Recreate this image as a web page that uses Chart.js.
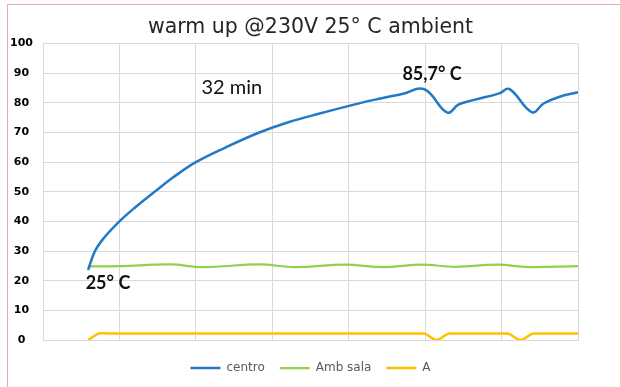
<!DOCTYPE html>
<html>
<head>
<meta charset="utf-8">
<script src="https://cdn.jsdelivr.net/npm/chart.js@4"></script>
<style>
  body { margin: 0; background: #fff; }
  #wrap { position: relative; width: 620px; height: 387px; }
  #frame { position: absolute; left: 7px; top: 4px; right: 0; bottom: 0;
           border-top: 1px solid #e9aab3; border-left: 1px solid #e9aab3; }
</style>
</head>
<body>
<div id="wrap">
  <div id="frame"></div>
  <canvas id="warmupChart"></canvas>
</div>
<script>
// x is measured in grid cells (the chart has 7, no labels)
var centroT = [0.59, 0.68, 0.8, 1.0, 1.2, 1.46, 1.7, 2.0, 2.4, 2.83, 3.2, 3.62, 4.16, 4.4, 4.7, 4.99, 5.29, 5.44, 5.64, 5.97, 6.1, 6.4, 6.55, 6.75, 7.0]
var centroV = [23.6, 30, 34.5, 40, 44.6, 50, 54.8, 60, 65.1, 70, 73.4, 76.4, 80, 81.4, 83, 84.6, 76.7, 79.5, 81, 83.2, 84.7, 76.8, 79.8, 82, 83.6]

var ambT = [0.59, 1.0, 1.66, 2.1, 2.83, 3.3, 3.95, 4.45, 4.95, 5.4, 5.95, 6.35, 7.0]
var ambV = [24.8, 24.9, 25.5, 24.6, 25.5, 24.6, 25.4, 24.6, 25.4, 24.7, 25.4, 24.6, 24.9]

var aT = [0.59, 0.75, 0.85, 4.98, 5.15, 5.32, 6.07, 6.25, 6.42, 7.0]
var aV = [0, 2.3, 2.2, 2.2, 0, 2.2, 2.2, 0, 2.2, 2.2]

var seriesNames = ["centro", "Amb sala", "A"]
var seriesColors = ["#2479c6", "#92d050", "#ffc000"]

var yTicks = [0, 10, 20, 30, 40, 50, 60, 70, 80, 90, 100]

// text notes placed in data units
var notes = [
    {text: "32 min", x: 2.47, y: 85.2, bold: false, size: 20},
    {text: "85,7° C", x: 5.09, y: 89.8, bold: true, size: 18},
    {text: "25° C", x: 0.85, y: 19, bold: true, size: 18}
]

function toPoints(xs, ys){
    return xs.map((x, i) => ({x: x, y: ys[i]}))
}

const notesPlugin = {
    id: "notes",
    afterDatasetsDraw(chart){
        const {ctx, scales} = chart
        ctx.save()
        ctx.fillStyle = "#111"
        ctx.textAlign = "center"
        ctx.textBaseline = "middle"
        notes.forEach(n => {
            ctx.font = (n.bold ? "bold " : "") + n.size + "px Lato"
            ctx.fillText(n.text, scales.x.getPixelForValue(n.x), scales.y.getPixelForValue(n.y))
        })
        ctx.restore()
    }
}

const allData = [toPoints(centroT, centroV), toPoints(ambT, ambV), toPoints(aT, aV)]
const widths = [2.5, 2.25, 2.5]
const smoothing = ["default", "default", "monotone"]

new Chart(document.getElementById("warmupChart"), {
    type: "line",
    data: {
        datasets: allData.map((d, i) => ({
            label: seriesNames[i],
            data: d,
            borderColor: seriesColors[i],
            backgroundColor: seriesColors[i],
            borderWidth: widths[i],
            pointRadius: 0,
            tension: 0.4,
            cubicInterpolationMode: smoothing[i]
        }))
    },
    options: {
        responsive: true,
        maintainAspectRatio: false,
        animation: false,
        layout: {
            padding: {left: 0, right: 42, top: 0, bottom: 3}
        },
        scales: {
            x: {
                type: "linear",
                min: 0,
                max: 7,
                grid: {color: "#d9d9d9", drawTicks: false},
                border: {color: "#d9d9d9"},
                ticks: {display: false, stepSize: 1},
                afterFit: (s) => { s.height = 7 }
            },
            y: {
                min: 0,
                max: 100,
                grid: {color: "#d9d9d9", drawTicks: false},
                border: {color: "#d9d9d9"},
                afterBuildTicks: (s) => { s.ticks = yTicks.map(v => ({value: v})) },
                ticks: {
                    crossAlign: "center",
                    padding: 10,
                    color: "#000",
                    font: {family: "DejaVu Sans", size: 11, weight: "bold"}
                },
                afterFit: (s) => { s.width = 43 }
            }
        },
        plugins: {
            title: {
                display: true,
                text: "warm up @230V 25° C ambient",
                color: "#262626",
                fullSize: false,
                font: {family: "DejaVu Sans", size: 20.5, weight: "normal"},
                padding: {top: 15, bottom: 4}
            },
            legend: {
                position: "bottom",
                fullSize: false,
                labels: {
                    boxWidth: 30,
                    boxHeight: 0,
                    padding: 15,
                    color: "#595959",
                    font: {family: "DejaVu Sans", size: 12}
                }
            },
            tooltip: {enabled: false}
        }
    },
    plugins: [notesPlugin]
})
</script>
</body>
</html>
